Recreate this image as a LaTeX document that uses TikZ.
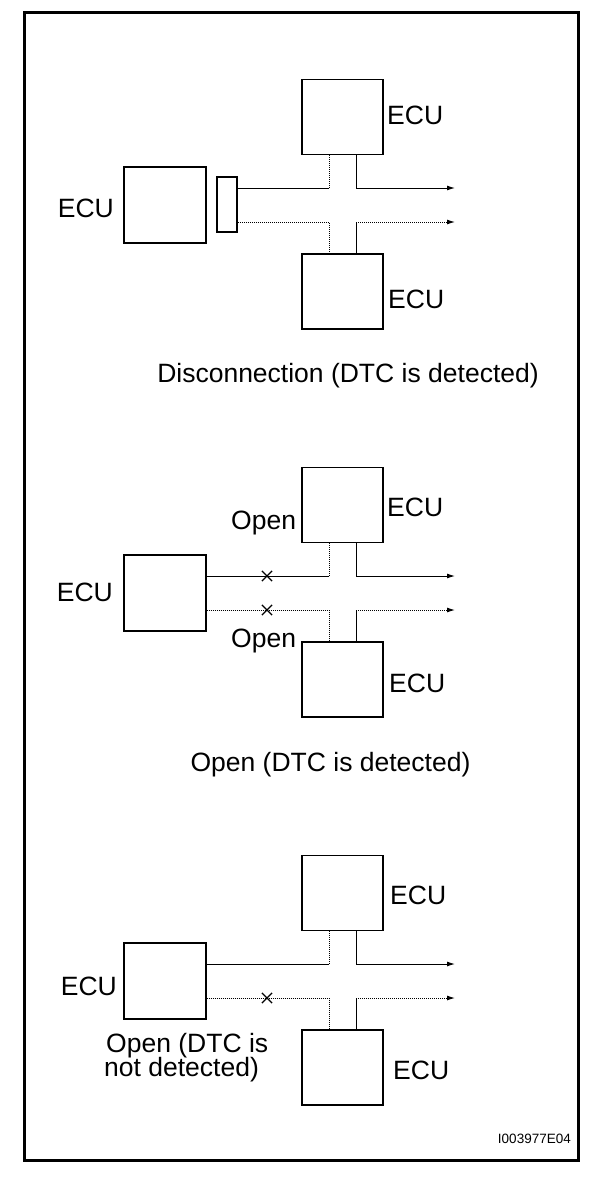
\documentclass[tikz,border=0pt]{standalone}
\usepackage{fontspec}
\setmainfont{Liberation Sans}
\usetikzlibrary{arrows.meta,shapes.misc}
\begin{document}
\begin{tikzpicture}[x=1pt,y=-1pt,
  ecubox/.style={draw, line width=1.3pt, inner sep=0pt, minimum width=81pt, minimum height=75pt},
  srcbox/.style={draw, line width=1.3pt, inner sep=0pt, minimum width=82pt, minimum height=76pt},
  conbox/.style={draw, line width=1.8pt, inner sep=0pt, minimum width=20pt, minimum height=55pt},
  lbl/.style={inner sep=0pt, font=\fontsize{26.5}{30}\selectfont},
  tiny/.style={inner sep=0pt, font=\fontsize{13.5}{16}\selectfont},
  wire/.style={line width=1pt},
  wiredot/.style={line width=1pt, densely dotted},
  tip/.style={-{Latex[length=8pt,width=5pt]}},
  xmark/.style={draw, cross out, line width=1.2pt, inner sep=0pt, minimum size=9pt}]
\useasboundingbox (0,0) rectangle (608,1186);
\draw[line width=3pt] (24,12) rectangle (578.5,1160.5);

% connector of section 1
\node[conbox] (cona) at (227,204.5) {};

\foreach \s/\dy in {a/0,b/388,c/776}{
  \node[ecubox] (top\s) at (342.5,{117+\dy}) {};
  \node[ecubox] (bot\s) at (342.5,{291.5+\dy}) {};
  \node[srcbox] (lef\s) at (165,{205+\dy}) {};
  \coordinate (ju\s) at (329,{188+\dy});
  \coordinate (jr\s) at (356,{188+\dy});
  \coordinate (ar\s) at (455,{188+\dy});
  \coordinate (jl\s) at (329,{222+\dy});
  \coordinate (jq\s) at (356,{222+\dy});
  \coordinate (aq\s) at (455,{222+\dy});
}

\foreach \s/\src in {a/cona,b/lefb,c/lefc}{
  \draw[wire] (\src.east |- ju\s) -- (ju\s);
  \draw[wiredot] (ju\s) -- (ju\s |- top\s.south);
  \draw[wire,tip] (top\s.south -| jr\s) -- (jr\s) -- (ar\s);
  \draw[wiredot] (\src.east |- jl\s) -- (jl\s) -- (jl\s |- bot\s.north);
  \draw[wire] (bot\s.north -| jq\s) -- (jq\s);
  \draw[wiredot,tip] (jq\s) -- (aq\s);
}

% open marks
\node[xmark] (xb1) at (267,576) {};
\node[xmark] (xb2) at (267,610) {};
\node[xmark] (xc1) at (267,998) {};

% section 1 labels
\node[lbl, anchor=base west] (lta) at (387,124) {ECU};
\node[lbl, anchor=base west] (lba) at (388,308) {ECU};
\node[lbl, anchor=base east] (lla) at (114,217) {ECU};
\node[lbl, anchor=base] (capa) at (348,382) {Disconnection (DTC is detected)};

% section 2 labels
\node[lbl, anchor=base west] (ltb) at (387,516) {ECU};
\node[lbl, anchor=base west] (lbb) at (389,692) {ECU};
\node[lbl, anchor=base east] (llb) at (113,601) {ECU};
\node[lbl, anchor=base west] (opb1) at (231,529) {Open};
\node[lbl, anchor=base west] (opb2) at (231,647) {Open};
\node[lbl, anchor=base] (capb) at (330.5,771) {Open (DTC is detected)};

% section 3 labels
\node[lbl, anchor=base west] (ltc) at (390,904) {ECU};
\node[lbl, anchor=base west] (lbc) at (393,1079) {ECU};
\node[lbl, anchor=base east] (llc) at (117,995) {ECU};
\node[lbl, anchor=base west] (opc1) at (106,1052) {Open (DTC is};
\node[lbl, anchor=base west] (opc2) at (104,1076) {not detected)};

\node[tiny, anchor=base east] (ref) at (571,1143) {I003977E04};
\end{tikzpicture}
\end{document}
